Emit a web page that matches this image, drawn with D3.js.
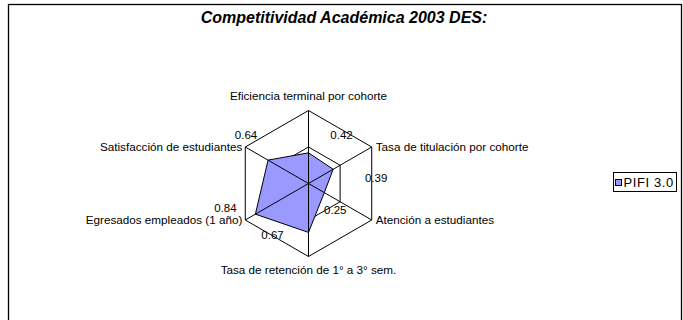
<!DOCTYPE html>
<html>
<head>
<meta charset="utf-8">
<script src="https://cdn.jsdelivr.net/npm/d3@7"></script>
<style>
  body { margin: 0; background: #fff; }
  svg { display: block; font-family: "Liberation Sans", Arial, sans-serif; }
</style>
</head>
<body>
<svg width="683" height="320"></svg>
<script>
// data van de grafiek
let categories = [
    "Eficiencia terminal por cohorte",
    "Tasa de titulación por cohorte",
    "Atención a estudiantes",
    "Tasa de retención de 1° a 3° sem.",
    "Egresados empleados (1 año)",
    "Satisfacción de estudiantes"
];
let values = [0.42, 0.39, 0.25, 0.67, 0.84, 0.64];
let ringTicks = [0.5, 1];
let seriesName = "PIFI 3.0";
let title = "Competitividad Académica 2003 DES:";

// waar de labels van de waardes staan (px, t.o.v. het punt) zoals in Excel
let labelOffsets = [[33, -18], [43, 9], [11, 17], [-36, 3], [-30, -6], [-22, -25]];

let svg = d3.select("svg"),
    cx = 308.5,
    cy = 183.5,
    outerRadius = 73,
    g = svg.append("g").attr("transform", "translate(" + cx + "," + cy + ")");

// kader om de grafiek
svg.append("rect")
    .attr("x", 8.5).attr("y", 4.5)
    .attr("width", 673).attr("height", 340)
    .attr("fill", "none").attr("stroke", "#000").attr("stroke-width", 1.3);

svg.append("text")
    .attr("x", 344).attr("y", 23)
    .attr("text-anchor", "middle")
    .attr("font-size", 16).attr("font-weight", "bold").attr("font-style", "italic")
    .text(title);

// hoeken per categorie, de eerste bovenaan
let angle = d3.scaleBand().domain(categories).range([0, 2 * Math.PI]).align(0);

let r = d3.scaleLinear().domain([0, 1]).range([0, outerRadius]);

function pt(cat, v) {
    let a = angle(cat);
    return [Math.sin(a) * r(v), -Math.cos(a) * r(v)];
}

// ringen (zeshoeken)
g.append("g").selectAll("path")
    .data(ringTicks)
    .enter().append("path")
    .attr("d", function (t) {
        return d3.line()(categories.map(function (c) { return pt(c, t); })) + "Z";
    })
    .attr("fill", "none").attr("stroke", "#000").attr("stroke-width", 1);

// de serie
g.append("path")
    .datum(values)
    .attr("d", function (d) {
        return d3.line()(d.map(function (v, i) { return pt(categories[i], v); })) + "Z";
    })
    .attr("fill", "#9999ff").attr("stroke", "#000").attr("stroke-width", 1);

// spaken over de serie heen
g.append("g").selectAll("line")
    .data(categories)
    .enter().append("line")
    .attr("x1", 0).attr("y1", 0)
    .attr("x2", function (c) { return pt(c, 1)[0]; })
    .attr("y2", function (c) { return pt(c, 1)[1]; })
    .attr("stroke", "#000").attr("stroke-width", 1);

// namen van de categorieen
g.append("g").selectAll("text")
    .data(categories)
    .enter().append("text")
    .attr("font-size", 11.7)
    .attr("x", function (c) {
        let p = pt(c, 1);
        return p[0] > 1 ? p[0] + 4 : p[0] < -1 ? p[0] - 3 : p[0];
    })
    .attr("y", function (c) {
        let p = pt(c, 1);
        if (Math.abs(p[0]) < 1) return p[1] < 0 ? p[1] - 11 : p[1] + 17;
        return p[1];
    })
    .attr("dy", function (c) { return Math.abs(pt(c, 1)[0]) < 1 ? 0 : "0.35em"; })
    .attr("text-anchor", function (c) {
        let p = pt(c, 1);
        return p[0] > 1 ? "start" : p[0] < -1 ? "end" : "middle";
    })
    .text(function (c) { return c; });

// waardes bij de punten
g.append("g").selectAll("text")
    .data(values)
    .enter().append("text")
    .attr("font-size", 11.5)
    .attr("text-anchor", "middle")
    .attr("dy", "0.35em")
    .attr("x", function (v, i) { return pt(categories[i], v)[0] + labelOffsets[i][0]; })
    .attr("y", function (v, i) { return pt(categories[i], v)[1] + labelOffsets[i][1]; })
    .text(function (v) { return v.toFixed(2); });

// legenda
let legend = svg.append("g").attr("transform", "translate(613.5,172.5)");
legend.append("rect")
    .attr("width", 63).attr("height", 19)
    .attr("fill", "#fff").attr("stroke", "#000");
legend.append("rect")
    .attr("x", 2).attr("y", 7).attr("width", 6).attr("height", 6)
    .attr("fill", "#9999ff").attr("stroke", "#000");
legend.append("text")
    .attr("x", 10).attr("y", 14.5)
    .attr("font-size", 13)
    .attr("letter-spacing", 0.6)
    .text(seriesName);
</script>
</body>
</html>
